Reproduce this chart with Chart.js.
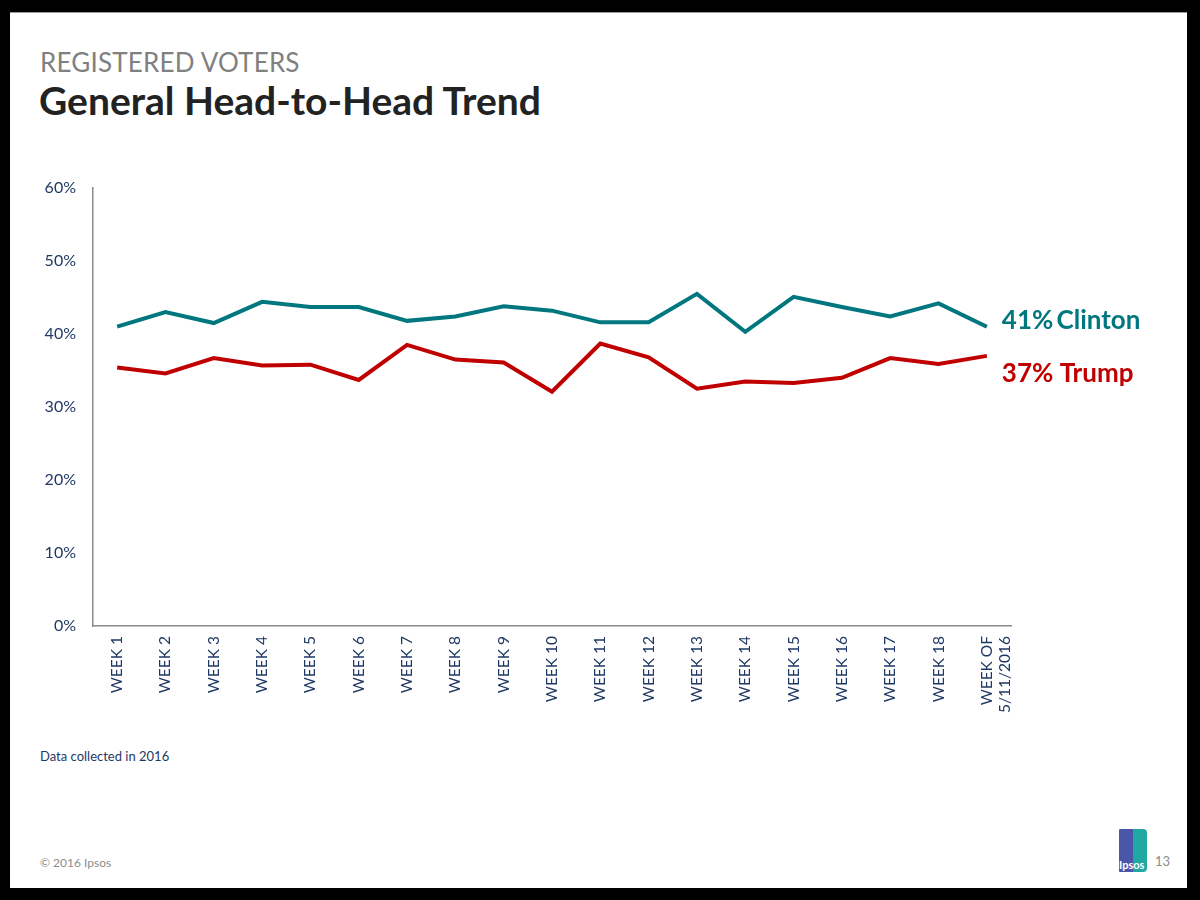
<!DOCTYPE html>
<html lang="en">
<head>
    <meta charset="UTF-8">
    <title>General Head-to-Head Trend</title>
    <style>
        body {
            margin: 0;
            width: 1200px;
            height: 900px;
            background: #000;
            font-family: Lato, "Open Sans", sans-serif;
            overflow: hidden;
        }

        #slide {
            position: absolute;
            left: 10px;
            top: 12px;
            width: 1177px;
            height: 875px;
            background: #fff;
            border-top: 1px solid #9a9a9a;
        }

        #kicker {
            position: absolute;
            left: 30px;
            top: 33px;
            font-size: 26px;
            color: #808080;
            letter-spacing: 0.2px;
        }

        #title {
            position: absolute;
            left: 29px;
            top: 64px;
            font-size: 39px;
            font-weight: bold;
            color: #222;
        }

        #chartBox {
            position: absolute;
            left: 10px;
            top: 148px;
            width: 1160px;
            height: 570px;
        }

        #note {
            position: absolute;
            left: 30px;
            top: 735px;
            font-size: 13px;
            color: #1F3864;
        }

        #copy {
            position: absolute;
            left: 30px;
            top: 842px;
            font-size: 12px;
            color: #8c8c8c;
        }

        #page {
            position: absolute;
            left: 1145px;
            top: 840px;
            font-size: 13px;
            color: #8c8c8c;
        }

        #logo {
            position: absolute;
            left: 1109px;
            top: 816px;
            width: 28px;
            height: 43px;
            background: linear-gradient(90deg, #4B56A8 0 50%, #1FA9A2 50% 100%);
            border-radius: 1px 4px 4px 1px;
            overflow: hidden;
        }

        #logo span {
            position: absolute;
            left: 0px;
            bottom: 1px;
            font-size: 11px;
            font-weight: bold;
            color: #fff;
        }
    </style>
</head>
<body>
    <div id="slide">
        <div id="kicker">REGISTERED VOTERS</div>
        <div id="title">General Head-to-Head Trend</div>
        <div id="chartBox"><canvas id="trend"></canvas></div>
        <div id="note">Data collected in 2016</div>
        <div id="copy">© 2016 Ipsos</div>
        <div id="logo"><span>Ipsos</span></div>
        <div id="page">13</div>
    </div>
    <script src="https://cdn.jsdelivr.net/npm/chart.js"></script>
    <script>
        const weeks = ['WEEK 1', 'WEEK 2', 'WEEK 3', 'WEEK 4', 'WEEK 5', 'WEEK 6', 'WEEK 7', 'WEEK 8', 'WEEK 9',
            'WEEK 10', 'WEEK 11', 'WEEK 12', 'WEEK 13', 'WEEK 14', 'WEEK 15', 'WEEK 16', 'WEEK 17', 'WEEK 18',
            ['WEEK OF', '5/11/2016']];
        const clinton = [41.0, 43.0, 41.5, 44.4, 43.7, 43.7, 41.8, 42.4, 43.8, 43.2, 41.6, 41.6, 45.5, 40.3, 45.1, 43.7, 42.4, 44.2, 41.0];
        const trump = [35.4, 34.6, 36.7, 35.7, 35.8, 33.7, 38.5, 36.5, 36.1, 32.1, 38.7, 36.8, 32.5, 33.5, 33.3, 34.0, 36.7, 35.9, 37.0];
        const yTicks = [0, 10, 20, 30, 40, 50, 60];
        const endLabels = ['41%\u2009Clinton', '37% Trump'];
        const endOffsets = [-6, 18];

        const teal = '#00777F';
        const red = '#C00000';
        const navy = '#1F3864';

        // puts the "41% Clinton" / "37% Trump" text after the last point
        const endLabelPlugin = {
            id: 'endLabels',
            afterDatasetsDraw(chart) {
                const ctx = chart.ctx;
                chart.data.datasets.forEach((ds, i) => {
                    const pts = chart.getDatasetMeta(i).data;
                    const last = pts[pts.length - 1];
                    ctx.save();
                    ctx.font = 'bold 26px Lato, sans-serif';
                    ctx.fillStyle = ds.borderColor;
                    ctx.textBaseline = 'middle';
                    ctx.fillText(endLabels[i], last.x + 15, last.y + endOffsets[i]);
                    ctx.restore();
                });
            }
        };

        new Chart(document.getElementById('trend'), {
            type: 'line',
            data: {
                labels: weeks,
                datasets: [
                    { label: 'Clinton', data: clinton, borderColor: teal, borderWidth: 4, pointRadius: 0, tension: 0 },
                    { label: 'Trump', data: trump, borderColor: red, borderWidth: 4, pointRadius: 0, tension: 0 }
                ]
            },
            options: {
                responsive: true,
                maintainAspectRatio: false,
                animation: false,
                layout: { padding: { top: 27, right: 169, left: 0, bottom: 0 } },
                plugins: {
                    legend: { display: false },
                    tooltip: { enabled: false }
                },
                scales: {
                    x: {
                        offset: true,
                        grid: { display: false, drawTicks: false },
                        border: { display: true, color: '#8a8a8a', width: 1.5 },
                        ticks: {
                            color: navy,
                            font: { family: 'Lato, sans-serif', size: 15.5 },
                            maxRotation: 90,
                            minRotation: 90,
                            autoSkip: false,
                            padding: 10
                        },
                        afterFit(scale) { scale.height = 105; }
                    },
                    y: {
                        min: 0,
                        max: 60,
                        afterBuildTicks(scale) { scale.ticks = yTicks.map(v => ({ value: v })); },
                        grid: { display: false, drawTicks: false },
                        border: { display: true, color: '#8a8a8a', width: 1.5 },
                        ticks: {
                            color: navy,
                            font: { family: 'Lato, sans-serif', size: 16 },
                            padding: 17,
                            callback: v => v + '%'
                        },
                        afterFit(scale) { scale.width = 73; }
                    }
                }
            },
            plugins: [endLabelPlugin]
        });
    </script>
</body>
</html>
